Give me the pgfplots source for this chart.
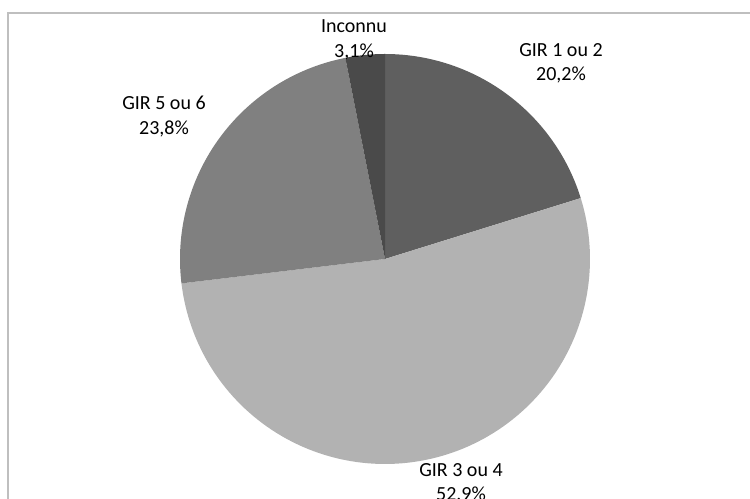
\documentclass[border=0pt]{standalone}
\usepackage{pgfplots}
\pgfplotsset{compat=1.18}
\usepackage{fontspec}
\setmainfont{Carlito}

\definecolor{girA}{HTML}{5F5F5F}
\definecolor{girB}{HTML}{B2B2B2}
\definecolor{girC}{HTML}{808080}
\definecolor{inconnu}{HTML}{4A4A4A}
\definecolor{cadre}{HTML}{BFBFBF}

% parts (%)
\def\pA{20.2} % GIR 1 ou 2
\def\pB{52.9} % GIR 3 ou 4
\def\pC{23.8} % GIR 5 ou 6
\def\pD{3.1}  % Inconnu

% centre et rayon du camembert (px)
\def\cx{385}
\def\cy{240}
\def\rr{205}

\pgfmathsetmacro{\aZ}{90}
\pgfmathsetmacro{\aA}{\aZ-3.6*\pA}
\pgfmathsetmacro{\aB}{\aA-3.6*\pB}
\pgfmathsetmacro{\aC}{\aB-3.6*\pC}
\pgfmathsetmacro{\aD}{\aC-3.6*\pD}

\tikzset{lbl/.style={font=\fontsize{20bp}{24bp}\selectfont, inner sep=0pt, anchor=base}}

\begin{document}
\begin{tikzpicture}
\path[use as bounding box] (0,0) rectangle (750bp,499bp);
\begin{axis}[
	at={(0,0)}, anchor=south west,
	scale only axis,
	width=750bp, height=499bp,
	xmin=0, xmax=750, ymin=0, ymax=499,
	hide axis,
	clip=false,
	samples=120,
	variable=\t,
	]
	\draw[cadre, line width=1.5bp] (axis cs:8,-10) -- (axis cs:8,486) -- (axis cs:760,486);

	\addplot[draw=none, fill=girA, domain=\aA:\aZ] ({\cx+\rr*cos(\t)},{\cy+\rr*sin(\t)}) -- (axis cs:\cx,\cy) -- cycle;
	\addplot[draw=none, fill=girB, domain=\aB:\aA] ({\cx+\rr*cos(\t)},{\cy+\rr*sin(\t)}) -- (axis cs:\cx,\cy) -- cycle;
	\addplot[draw=none, fill=girC, domain=\aC:\aB] ({\cx+\rr*cos(\t)},{\cy+\rr*sin(\t)}) -- (axis cs:\cx,\cy) -- cycle;
	\addplot[draw=none, fill=inconnu, domain=\aD:\aC] ({\cx+\rr*cos(\t)},{\cy+\rr*sin(\t)}) -- (axis cs:\cx,\cy) -- cycle;

	\node[lbl] at (axis cs:354,466) {Inconnu};
	\node[lbl] at (axis cs:354,441) {3,1\%};
	\node[lbl] at (axis cs:561,442) {GIR 1 ou 2};
	\node[lbl] at (axis cs:561,418) {20,2\%};
	\node[lbl] at (axis cs:164,389) {GIR 5 ou 6};
	\node[lbl] at (axis cs:164,364) {23,8\%};
	\node[lbl] at (axis cs:461,23) {GIR 3 ou 4};
	\node[lbl] at (axis cs:461,-1) {52,9\%};
\end{axis}
\end{tikzpicture}
\end{document}
